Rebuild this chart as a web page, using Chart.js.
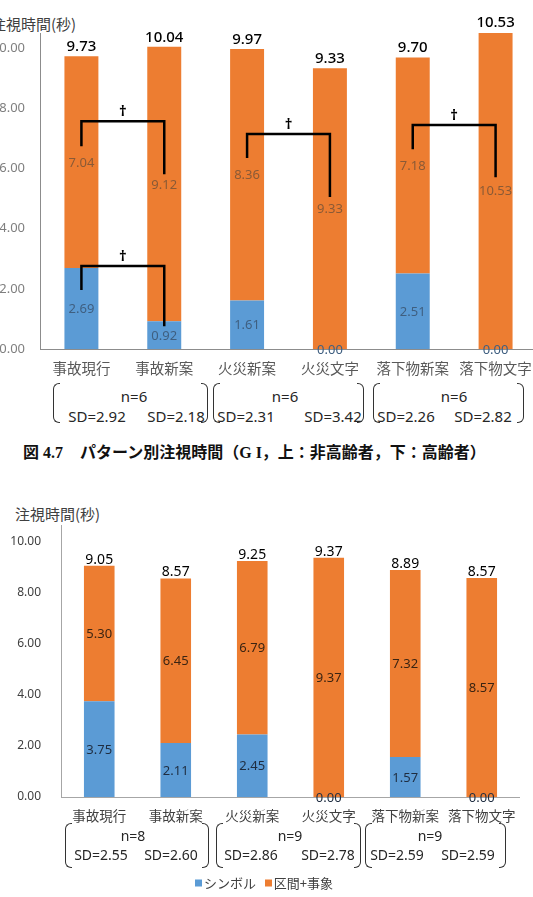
<!DOCTYPE html>
<html><head><meta charset="utf-8">
<script src="https://cdn.jsdelivr.net/npm/chart.js@4"></script>
<style>
html,body{margin:0;padding:0;background:#fff;overflow:hidden;}
body{width:533px;height:897px;position:relative;}
.abs{position:absolute;white-space:nowrap;line-height:1;}
.c{transform:translate(-50%,-50%);}
.l{transform:translateY(-50%);}
.jp{font-family:"Noto Sans CJK JP","Noto Sans",sans-serif;}
.num{font-family:"Noto Sans","Open Sans",sans-serif;color:#262626;}
.pl,.pr{position:absolute;width:6px;border:1.6px solid #333;}
.pl{border-right:none;border-radius:6px 0 0 6px;}
.pr{border-left:none;border-radius:0 6px 6px 0;}
.cap{font-family:"Liberation Serif","Noto Sans CJK JP",serif;font-weight:bold;font-size:16px;color:#111;}
.sq{display:inline-block;width:7px;height:7px;margin-right:2px;vertical-align:middle;position:relative;top:-1px;}
</style></head><body>

<div class="abs jp l" style="left:-9px;top:23px;font-size:15px;color:#404040;">注視時間(秒)</div>
<canvas id="c1" width="537" height="380" style="position:absolute;left:0;top:0;"></canvas>

<div class="abs cap l" style="left:23px;top:453px;">図 4.7</div>
<div class="abs cap l" style="left:80px;top:453px;">パターン別注視時間（G I，上：非高齢者，下：高齢者）</div>

<div class="abs jp l" style="left:15px;top:513px;font-size:15px;color:#404040;">注視時間(秒)</div>
<canvas id="c2" width="520" height="337" style="position:absolute;left:0;top:490px;"></canvas>

<div id="notes"></div>

<div class="abs jp l" style="left:195px;top:882px;font-size:13px;color:#404040;"><span class="sq" style="background:#5B9BD5"></span>シンボル&nbsp;&nbsp;&nbsp;<span class="sq" style="background:#ED7D31"></span>区間+事象</div>

<script>
// ---------- data ----------
const categories = ['事故現行','事故新案','火災新案','火災文字','落下物新案','落下物文字'];
const seriesNames = ['シンボル','区間+事象'];

// 上：非高齢者
const topSymbol   = [2.69, 0.92, 1.61, 0.00, 2.51, 0.00];
const topInterval = [7.04, 9.12, 8.36, 9.33, 7.18, 10.53];
const topTotals   = ['9.73','10.04','9.97','9.33','9.70','10.53'];
const topN        = ['n=6','n=6','n=6'];
const topSD       = ['SD=2.92','SD=2.18','SD=2.31','SD=3.42','SD=2.26','SD=2.82'];
// significance brackets (†): category pair, bar height, leg ends (seconds)
const topSig = [
  {from:0, to:1, top:7.57, leftEnd:6.74, rightEnd:5.81},
  {from:0, to:1, top:2.76, leftEnd:1.96, rightEnd:0.76},
  {from:2, to:3, top:7.14, leftEnd:6.35, rightEnd:5.05},
  {from:4, to:5, top:7.44, leftEnd:6.64, rightEnd:5.71}
];

// 下：高齢者
const botSymbol   = [3.75, 2.11, 2.45, 0.00, 1.57, 0.00];
const botInterval = [5.30, 6.45, 6.79, 9.37, 7.32, 8.57];
const botTotals   = ['9.05','8.57','9.25','9.37','8.89','8.57'];
const botN        = ['n=8','n=9','n=9'];
const botSD       = ['SD=2.55','SD=2.60','SD=2.86','SD=2.78','SD=2.59','SD=2.59'];

const yTicks = [0, 2, 4, 6, 8, 10];

const BLUE = '#5B9BD5', ORANGE = '#ED7D31';

// ---------- plugins ----------
const labelPlugin = {
  id: 'segLabels',
  afterDatasetsDraw(chart, args, o) {
    const ctx = chart.ctx;
    ctx.save();
    ctx.textAlign = 'center';
    chart.data.datasets.forEach((ds, i) => {
      const meta = chart.getDatasetMeta(i);
      ctx.font = o.segFont;
      ctx.fillStyle = o.segColors[i];
      ctx.textBaseline = 'middle';
      meta.data.forEach((bar, j) => {
        ctx.fillText(ds.data[j].toFixed(2), bar.x, (bar.y + bar.base) / 2 + 1);
      });
    });
    const topMeta = chart.getDatasetMeta(chart.data.datasets.length - 1);
    ctx.font = o.totFont;
    ctx.fillStyle = '#000';
    ctx.textBaseline = 'alphabetic';
    topMeta.data.forEach((bar, j) => {
      ctx.fillText(o.totals[j], bar.x, bar.y - o.totGap);
    });
    ctx.restore();
  }
};

const sigPlugin = {
  id: 'sig',
  afterDatasetsDraw(chart, args, o) {
    if (!o.items) return;
    const ctx = chart.ctx, xs = chart.scales.x, ys = chart.scales.y;
    ctx.save();
    ctx.strokeStyle = '#000';
    ctx.lineWidth = 2.5;
    ctx.lineJoin = 'miter';
    o.items.forEach(s => {
      const x1 = xs.getPixelForValue(s.from), x2 = xs.getPixelForValue(s.to);
      const yt = ys.getPixelForValue(s.top);
      ctx.beginPath();
      ctx.moveTo(x1, ys.getPixelForValue(s.leftEnd));
      ctx.lineTo(x1, yt);
      ctx.lineTo(x2, yt);
      ctx.lineTo(x2, ys.getPixelForValue(s.rightEnd));
      ctx.stroke();
      ctx.fillStyle = '#000';
      ctx.font = 'bold 15px "Noto Sans", sans-serif';
      ctx.textAlign = 'center';
      ctx.textBaseline = 'alphabetic';
      ctx.fillText('†', (x1 + x2) / 2, yt - 5);
    });
    ctx.restore();
  }
};

function makeChart(id, sym, intv, cfg) {
  return new Chart(document.getElementById(id), {
    type: 'bar',
    data: {
      labels: categories,
      datasets: [
        {label: seriesNames[0], data: sym, backgroundColor: BLUE, borderWidth: 0},
        {label: seriesNames[1], data: intv, backgroundColor: ORANGE, borderWidth: 0}
      ]
    },
    options: {
      responsive: false,
      animation: false,
      devicePixelRatio: 1,
      layout: {padding: {top: cfg.padTop, left: 0, right: 0, bottom: 0}},
      datasets: {bar: {categoryPercentage: 1, barPercentage: cfg.barPct}},
      plugins: {
        legend: {display: false},
        tooltip: {enabled: false},
        segLabels: {segFont: cfg.segFont, segColors: cfg.segColors, totals: cfg.totals, totFont: cfg.totFont, totGap: cfg.totGap},
        sig: {items: cfg.sig}
      },
      scales: {
        x: {
          stacked: true,
          grid: {display: false},
          border: {display: true, color: cfg.axisColor, width: 1},
          ticks: {padding: cfg.xPad, color: cfg.xColor, font: {family: '"Noto Sans CJK JP"', size: cfg.xSize}, maxRotation: 0, autoSkip: false},
          afterFit: s => { s.height = cfg.xHeight; }
        },
        y: {
          stacked: true,
          min: 0, max: cfg.yMax,
          grid: {display: false},
          border: {display: true, color: cfg.axisColor, width: 1},
          afterBuildTicks: s => { s.ticks = yTicks.map(v => ({value: v})); },
          ticks: {padding: cfg.yPad, color: cfg.yColor, font: {family: '"Noto Sans"', size: cfg.ySize}, callback: v => Number(v).toFixed(2)},
          afterFit: s => { s.width = cfg.yWidth; }
        }
      }
    },
    plugins: [labelPlugin, sigPlugin]
  });
}

makeChart('c1', topSymbol, topInterval, {
  padTop: 33, yMax: 10.5, barPct: 0.41, yWidth: 40, xHeight: 31,
  xPad: 3, xSize: 14.5, xColor: '#595959', yPad: 7, ySize: 13, yColor: '#7f7f7f',
  axisColor: '#8c8c8c',
  segFont: '13px "Noto Sans"', segColors: ['#3f5f80', '#8a5a36'],
  totals: topTotals, totFont: '500 15px "Noto Sans"', totGap: 5,
  sig: topSig
});

makeChart('c2', botSymbol, botInterval, {
  padTop: 35, yMax: 10.65, barPct: 0.40, yWidth: 61, xHeight: 30,
  xPad: 3, xSize: 13.5, xColor: '#404040', yPad: 12, ySize: 12, yColor: '#404040',
  axisColor: '#a6a6a6',
  segFont: '13px "Noto Sans"', segColors: ['#1f2d40', '#3b2412'],
  totals: botTotals, totFont: '14px "Noto Sans"', totGap: 2,
  sig: null
});

// ---------- n / SD annotations (HTML text) ----------
const notes = document.getElementById('notes');
function addText(txt, x, y, size) {
  const d = document.createElement('div');
  d.className = 'abs num c';
  d.style.left = x + 'px'; d.style.top = y + 'px'; d.style.fontSize = size + 'px';
  d.textContent = txt;
  notes.appendChild(d);
}
function addParen(cls, x, y1, y2) {
  const d = document.createElement('div');
  d.className = cls;
  d.style.left = (cls === 'pl' ? x : x - 6) + 'px';
  d.style.top = y1 + 'px';
  d.style.height = (y2 - y1) + 'px';
  notes.appendChild(d);
}
// top
[134, 285, 454].forEach((x, i) => addText(topN[i], x, 396, 15));
[97, 176, 246, 333, 406, 483].forEach((x, i) => addText(topSD[i], x, 416, 15));
[[53, 207], [213, 363], [373, 523]].forEach(p => { addParen('pl', p[0], 383, 421); addParen('pr', p[1], 383, 421); });
// bottom
[133, 290, 430].forEach((x, i) => addText(botN[i], x, 836, 14));
[101, 171, 251, 328, 397, 468].forEach((x, i) => addText(botSD[i], x, 855, 14));
[[65, 208], [216, 360], [365, 505]].forEach(p => { addParen('pl', p[0], 823, 866); addParen('pr', p[1], 823, 866); });
</script>
</body></html>
